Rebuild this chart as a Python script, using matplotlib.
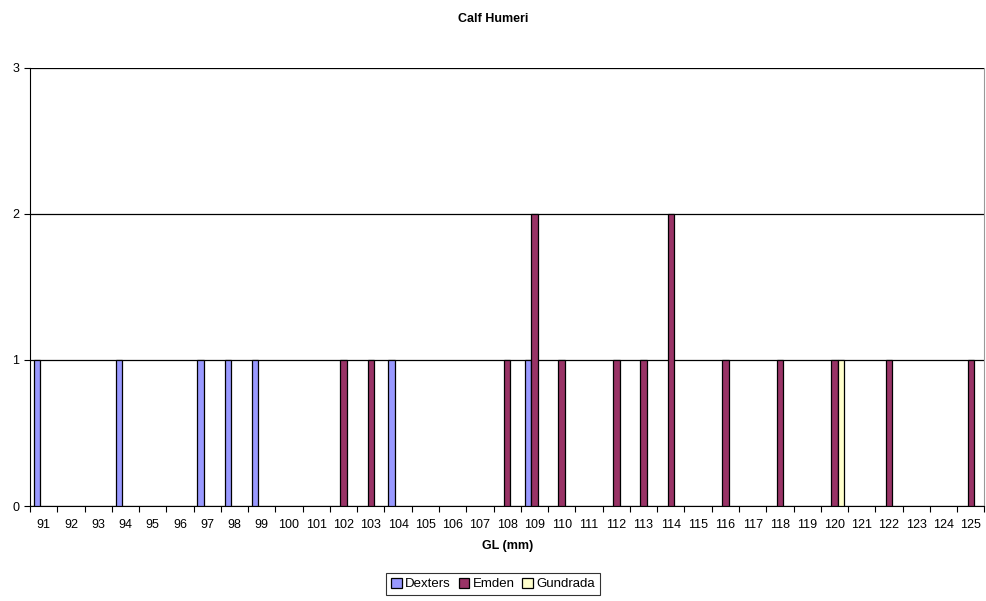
import numpy as np
import matplotlib.pyplot as plt

plt.rcParams['font.family'] = ['Liberation Sans', 'DejaVu Sans']

# GL (mm) categories and counts per breed
lengths = list(range(91, 126))
dexters = {91: 1, 94: 1, 97: 1, 98: 1, 99: 1, 104: 1, 109: 1}
emden = {102: 1, 103: 1, 108: 1, 109: 2, 110: 1, 112: 1, 113: 1, 114: 2,
         116: 1, 118: 1, 120: 1, 122: 1, 125: 1}
gundrada = {120: 1}

series = [("Dexters", dexters, "#9999FF"),
          ("Emden", emden, "#993366"),
          ("Gundrada", gundrada, "#FFFFCC")]

fig = plt.figure(figsize=(9.86, 6.01), dpi=100)
ax = fig.add_axes([0.0304, 0.158, 0.968, 0.729])

x = np.arange(len(lengths))
w = 0.24
for i, (name, d, col) in enumerate(series):
    vals = np.array([d.get(v, 0) for v in lengths])
    keep = vals > 0  # skip empty bars so no edge line sits on the baseline
    ax.bar(x[keep] + (i - 1) * w, vals[keep], width=w, color=col,
           edgecolor="black", linewidth=0.9, label=name, zorder=3)

ax.set_xlim(-0.5, len(lengths) - 0.5)
ax.set_ylim(0, 3)
ax.set_yticks([0, 1, 2, 3])
ax.yaxis.grid(True, color="black", linewidth=0.9, zorder=0)
ax.set_xticks(x)
ax.set_xticklabels([str(v) for v in lengths], fontsize=9)
ax.set_xticks(np.arange(-0.5, len(lengths)), minor=True)
ax.tick_params(axis="x", which="major", length=0, pad=9)
ax.tick_params(axis="x", which="minor", length=4, width=0.8)
ax.tick_params(axis="y", labelsize=9, length=4, width=0.8)

ax.spines["top"].set_visible(False)
ax.spines["right"].set_color("#999999")
ax.spines["left"].set_color("black")
ax.spines["bottom"].set_color("black")

ax.set_xlabel("GL (mm)", fontsize=9, fontweight="bold", labelpad=7)
fig.text(0.5, 0.968, "Calf Humeri", ha="center", va="center",
         fontsize=9, fontweight="bold")

leg = fig.legend(loc="center", bbox_to_anchor=(0.5, 0.028), ncol=3,
                 fontsize=9.5, frameon=True, fancybox=False,
                 handlelength=0.8, handleheight=0.8, handletextpad=0.25,
                 columnspacing=0.6, borderpad=0.35)
leg.get_frame().set_edgecolor("black")
leg.get_frame().set_linewidth(0.8)

fig.savefig("out.png", dpi=100)
